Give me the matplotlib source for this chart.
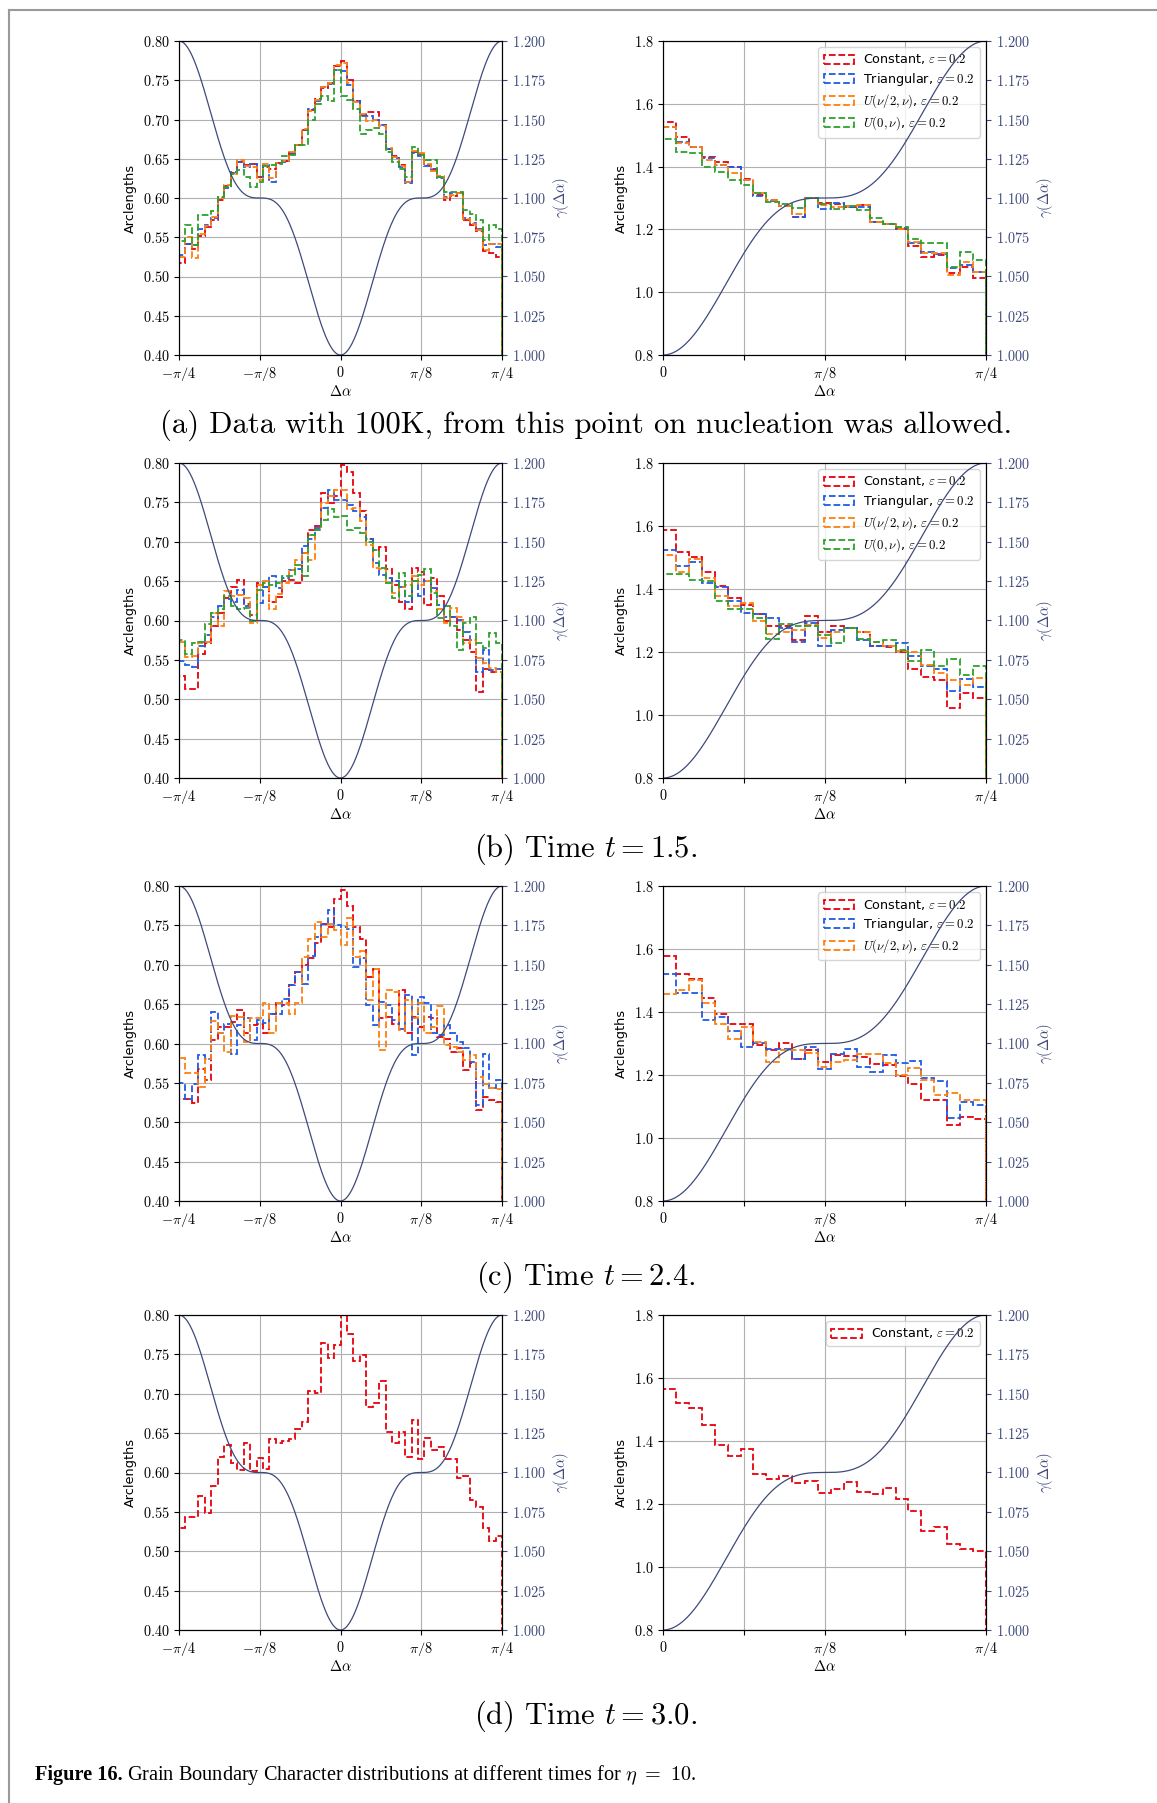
import numpy as np
import matplotlib.pyplot as plt
from matplotlib.lines import Line2D
from matplotlib.ticker import FuncFormatter

plt.rcParams['mathtext.fontset'] = 'cm'
plt.rcParams['font.size'] = 9.3
plt.rcParams['xtick.labelsize'] = 10.3
plt.rcParams['ytick.labelsize'] = 10.3

# arclength distributions on [-pi/4, pi/4] (50 bins)
a_full_const = [0.517, 0.542, 0.535, 0.552, 0.563, 0.572, 0.598, 0.615, 0.632, 0.646,
                0.642, 0.643, 0.627, 0.639, 0.637, 0.644, 0.647, 0.657, 0.667, 0.687,
                0.712, 0.726, 0.740, 0.746, 0.768, 0.775, 0.750, 0.724, 0.706, 0.710,
                0.710, 0.693, 0.663, 0.653, 0.642, 0.621, 0.659, 0.656, 0.642, 0.637,
                0.627, 0.598, 0.603, 0.606, 0.572, 0.566, 0.558, 0.532, 0.530, 0.525]
a_full_tri = [0.527, 0.542, 0.540, 0.560, 0.566, 0.575, 0.601, 0.613, 0.633, 0.646,
              0.640, 0.643, 0.627, 0.642, 0.620, 0.644, 0.646, 0.656, 0.668, 0.686,
              0.713, 0.724, 0.742, 0.745, 0.763, 0.762, 0.744, 0.723, 0.705, 0.704,
              0.699, 0.693, 0.662, 0.651, 0.640, 0.619, 0.657, 0.653, 0.641, 0.636,
              0.625, 0.601, 0.606, 0.607, 0.574, 0.568, 0.561, 0.540, 0.542, 0.538]
a_full_uhalf = [0.525, 0.550, 0.523, 0.554, 0.564, 0.576, 0.600, 0.617, 0.631, 0.648,
                0.641, 0.640, 0.623, 0.643, 0.625, 0.645, 0.647, 0.659, 0.667, 0.688,
                0.711, 0.725, 0.741, 0.747, 0.770, 0.772, 0.746, 0.722, 0.707, 0.698,
                0.699, 0.692, 0.664, 0.652, 0.641, 0.620, 0.660, 0.657, 0.643, 0.635,
                0.628, 0.600, 0.604, 0.607, 0.573, 0.567, 0.559, 0.534, 0.542, 0.542]
a_full_uzero = [0.545, 0.566, 0.540, 0.578, 0.578, 0.583, 0.601, 0.614, 0.630, 0.636,
                0.627, 0.614, 0.620, 0.641, 0.642, 0.643, 0.653, 0.655, 0.667, 0.667,
                0.700, 0.720, 0.730, 0.723, 0.763, 0.730, 0.725, 0.714, 0.682, 0.687,
                0.689, 0.682, 0.659, 0.646, 0.637, 0.627, 0.665, 0.655, 0.648, 0.648,
                0.627, 0.608, 0.608, 0.608, 0.585, 0.580, 0.572, 0.546, 0.566, 0.560]

b_full_const = [0.529, 0.513, 0.513, 0.557, 0.571, 0.593, 0.609, 0.629, 0.643, 0.652,
                0.621, 0.607, 0.648, 0.643, 0.624, 0.630, 0.650, 0.652, 0.648, 0.686,
                0.715, 0.720, 0.762, 0.749, 0.758, 0.798, 0.788, 0.762, 0.739, 0.703,
                0.690, 0.693, 0.665, 0.645, 0.624, 0.614, 0.667, 0.662, 0.620, 0.654,
                0.631, 0.599, 0.605, 0.588, 0.575, 0.560, 0.509, 0.538, 0.535, 0.534]
b_full_tri = [0.549, 0.544, 0.541, 0.567, 0.582, 0.605, 0.618, 0.627, 0.624, 0.639,
              0.618, 0.600, 0.622, 0.643, 0.656, 0.641, 0.654, 0.664, 0.665, 0.694,
              0.703, 0.717, 0.743, 0.766, 0.753, 0.753, 0.747, 0.739, 0.732, 0.703,
              0.673, 0.658, 0.654, 0.650, 0.643, 0.624, 0.650, 0.631, 0.650, 0.641,
              0.620, 0.605, 0.605, 0.601, 0.586, 0.575, 0.535, 0.563, 0.537, 0.538]
b_full_uhalf = [0.573, 0.554, 0.555, 0.572, 0.573, 0.609, 0.593, 0.637, 0.631, 0.632,
                0.628, 0.597, 0.645, 0.650, 0.614, 0.634, 0.648, 0.664, 0.677, 0.686,
                0.677, 0.715, 0.749, 0.758, 0.766, 0.766, 0.741, 0.743, 0.726, 0.696,
                0.667, 0.665, 0.648, 0.635, 0.642, 0.645, 0.656, 0.645, 0.650, 0.637,
                0.615, 0.597, 0.616, 0.605, 0.571, 0.575, 0.552, 0.546, 0.540, 0.535]
b_full_uzero = [0.575, 0.557, 0.572, 0.573, 0.595, 0.609, 0.614, 0.631, 0.618, 0.614,
                0.616, 0.600, 0.639, 0.648, 0.645, 0.647, 0.656, 0.657, 0.671, 0.656,
                0.709, 0.715, 0.728, 0.741, 0.732, 0.733, 0.715, 0.717, 0.711, 0.700,
                0.690, 0.667, 0.648, 0.629, 0.660, 0.631, 0.650, 0.658, 0.665, 0.635,
                0.603, 0.618, 0.593, 0.563, 0.597, 0.605, 0.571, 0.565, 0.584, 0.571]

c_full_const = [0.530, 0.529, 0.524, 0.568, 0.554, 0.604, 0.621, 0.621, 0.627, 0.642,
                0.613, 0.623, 0.625, 0.613, 0.638, 0.651, 0.649, 0.674, 0.691, 0.700,
                0.709, 0.727, 0.752, 0.748, 0.783, 0.795, 0.774, 0.748, 0.733, 0.685,
                0.695, 0.632, 0.634, 0.625, 0.668, 0.613, 0.634, 0.621, 0.634, 0.632,
                0.608, 0.606, 0.589, 0.594, 0.566, 0.575, 0.515, 0.532, 0.528, 0.526]
c_full_tri = [0.550, 0.530, 0.549, 0.585, 0.580, 0.640, 0.613, 0.625, 0.587, 0.623,
              0.632, 0.604, 0.630, 0.626, 0.638, 0.638, 0.657, 0.674, 0.691, 0.676,
              0.711, 0.735, 0.752, 0.769, 0.750, 0.748, 0.746, 0.697, 0.708, 0.649,
              0.623, 0.653, 0.649, 0.630, 0.619, 0.661, 0.585, 0.659, 0.651, 0.613,
              0.611, 0.623, 0.613, 0.602, 0.594, 0.577, 0.522, 0.587, 0.543, 0.554]
c_full_uhalf = [0.581, 0.562, 0.562, 0.545, 0.580, 0.629, 0.613, 0.589, 0.635, 0.634,
                0.602, 0.632, 0.632, 0.651, 0.613, 0.651, 0.651, 0.638, 0.651, 0.710,
                0.733, 0.754, 0.735, 0.752, 0.744, 0.725, 0.759, 0.710, 0.718, 0.655,
                0.695, 0.592, 0.668, 0.666, 0.617, 0.655, 0.632, 0.651, 0.613, 0.621,
                0.647, 0.598, 0.596, 0.589, 0.579, 0.585, 0.558, 0.549, 0.543, 0.542]

d_full_const = [0.530, 0.543, 0.543, 0.570, 0.548, 0.583, 0.620, 0.635, 0.612, 0.603,
                0.638, 0.602, 0.618, 0.605, 0.642, 0.637, 0.640, 0.643, 0.655, 0.664,
                0.704, 0.701, 0.765, 0.745, 0.762, 0.800, 0.776, 0.741, 0.749, 0.683,
                0.688, 0.716, 0.652, 0.637, 0.652, 0.620, 0.667, 0.617, 0.644, 0.629,
                0.632, 0.617, 0.617, 0.593, 0.595, 0.565, 0.556, 0.530, 0.513, 0.520]

# arclength distributions on [0, pi/4] (25 bins)
a_half_const = [1.543, 1.495, 1.463, 1.430, 1.416, 1.398, 1.360, 1.310, 1.294, 1.275,
                1.240, 1.300, 1.283, 1.280, 1.272, 1.278, 1.222, 1.217, 1.200, 1.147,
                1.113, 1.118, 1.060, 1.081, 1.044]
a_half_tri = [1.525, 1.479, 1.463, 1.428, 1.405, 1.398, 1.358, 1.307, 1.291, 1.275,
              1.240, 1.300, 1.265, 1.285, 1.272, 1.272, 1.222, 1.217, 1.203, 1.156,
              1.129, 1.121, 1.076, 1.087, 1.065]
a_half_uhalf = [1.527, 1.474, 1.463, 1.421, 1.405, 1.379, 1.358, 1.316, 1.294, 1.275,
                1.250, 1.300, 1.278, 1.270, 1.275, 1.278, 1.222, 1.217, 1.200, 1.161,
                1.126, 1.126, 1.055, 1.097, 1.065]
a_half_uzero = [1.487, 1.447, 1.442, 1.400, 1.382, 1.357, 1.341, 1.316, 1.288, 1.280,
                1.267, 1.300, 1.280, 1.265, 1.275, 1.262, 1.235, 1.217, 1.209, 1.168,
                1.156, 1.156, 1.081, 1.129, 1.103]

b_half_const = [1.586, 1.516, 1.502, 1.454, 1.408, 1.371, 1.350, 1.322, 1.281, 1.281,
                1.237, 1.315, 1.265, 1.284, 1.277, 1.262, 1.218, 1.216, 1.199, 1.146,
                1.121, 1.112, 1.022, 1.070, 1.054]
b_half_tri = [1.523, 1.474, 1.485, 1.419, 1.406, 1.361, 1.324, 1.322, 1.308, 1.276,
              1.231, 1.292, 1.220, 1.271, 1.277, 1.237, 1.218, 1.218, 1.229, 1.188,
              1.155, 1.146, 1.075, 1.114, 1.089]
b_half_uhalf = [1.507, 1.453, 1.495, 1.435, 1.379, 1.347, 1.354, 1.297, 1.258, 1.265,
                1.270, 1.286, 1.244, 1.265, 1.277, 1.262, 1.231, 1.218, 1.204, 1.199,
                1.160, 1.133, 1.112, 1.096, 1.117]
b_half_uzero = [1.449, 1.449, 1.428, 1.424, 1.361, 1.337, 1.337, 1.308, 1.241, 1.290,
                1.281, 1.281, 1.255, 1.229, 1.277, 1.240, 1.231, 1.237, 1.207, 1.170,
                1.207, 1.157, 1.178, 1.128, 1.155]

c_half_const = [1.577, 1.520, 1.506, 1.443, 1.395, 1.361, 1.361, 1.295, 1.279, 1.300,
                1.252, 1.279, 1.242, 1.263, 1.260, 1.258, 1.234, 1.231, 1.196, 1.171,
                1.122, 1.122, 1.041, 1.067, 1.059]
c_half_tri = [1.520, 1.459, 1.461, 1.374, 1.385, 1.340, 1.289, 1.302, 1.284, 1.284,
              1.252, 1.289, 1.218, 1.266, 1.281, 1.226, 1.210, 1.263, 1.237, 1.245,
              1.189, 1.182, 1.065, 1.115, 1.104]
c_half_uhalf = [1.456, 1.469, 1.503, 1.429, 1.361, 1.313, 1.353, 1.305, 1.242, 1.279,
                1.279, 1.270, 1.226, 1.242, 1.247, 1.266, 1.266, 1.237, 1.200, 1.221,
                1.184, 1.136, 1.144, 1.120, 1.122]

d_half_const = [1.565, 1.522, 1.506, 1.450, 1.387, 1.353, 1.374, 1.295, 1.278, 1.289,
                1.266, 1.273, 1.234, 1.247, 1.270, 1.237, 1.231, 1.252, 1.215, 1.179,
                1.114, 1.128, 1.073, 1.058, 1.052]

labels = [r'Constant, $\varepsilon = 0.2$', r'Triangular, $\varepsilon = 0.2$',
          r'$U(\nu/2,\nu)$, $\varepsilon = 0.2$', r'$U(0,\nu)$, $\varepsilon = 0.2$']
colors = ['#e8000b', '#1f5ae6', '#ff7f0e', '#2ca02c']
curve_color = '#3f4a7c'

captions = ['(a) Data with 100K, from this point on nucleation was allowed.',
            r'(b) Time $t = 1.5$.', r'(c) Time $t = 2.4$.', r'(d) Time $t = 3.0$.']

rows = [
    ([a_full_const, a_full_tri, a_full_uhalf, a_full_uzero],
     [a_half_const, a_half_tri, a_half_uhalf, a_half_uzero]),
    ([b_full_const, b_full_tri, b_full_uhalf, b_full_uzero],
     [b_half_const, b_half_tri, b_half_uhalf, b_half_uzero]),
    ([c_full_const, c_full_tri, c_full_uhalf],
     [c_half_const, c_half_tri, c_half_uhalf]),
    ([d_full_const], [d_half_const]),
]


def gamma(x):
    return 1.1 - 0.1 * np.cos(4 * x) ** 3


def panel(ax, series, lo, ylim, yfmt, xticks, xlabels, legend=False):
    edges = np.linspace(lo, np.pi / 4, len(series[0]) + 1)
    mids = 0.5 * (edges[1:] + edges[:-1])
    for vals, c, lab in zip(series, colors, labels):
        ax.hist(mids, bins=edges, weights=vals, histtype='step', linestyle='--',
                linewidth=1.3, color=c, label=lab)
    ax.set_xlim(lo, np.pi / 4)
    ax.set_ylim(*ylim)
    ax.set_axisbelow(True)
    ax.grid(True, color='#b0b0b0', linewidth=0.8)
    ax.set_xticks(xticks)
    ax.set_xticklabels(xlabels)
    ax.yaxis.set_major_formatter(FuncFormatter(lambda v, p: '$' + yfmt % v + '$'))
    ax.set_ylabel('Arclengths')
    ax.set_xlabel(r'$\Delta\alpha$', labelpad=1, fontsize=10.5)
    if legend:
        ax.legend(loc='upper right', fontsize=9.2, handlelength=2.4,
                  labelspacing=0.35, handletextpad=0.7)

    ax2 = ax.twinx()
    xx = np.linspace(lo, np.pi / 4, 500)
    ax2.plot(xx, gamma(xx), color=curve_color, linewidth=0.9)
    ax2.set_ylim(1.0, 1.2)
    ax2.set_yticks(np.linspace(1.0, 1.2, 9))
    ax2.yaxis.set_major_formatter(FuncFormatter(lambda v, p: '$%.3f$' % v))
    ax2.tick_params(axis='y', colors=curve_color)
    ax2.set_ylabel(r'$\gamma(\Delta\alpha)$', color=curve_color, fontsize=10.5)


W, H = 1157, 1803
fig = plt.figure(figsize=(W / 100, H / 100), dpi=100)

row_px = [(41, 355), (463, 778), (886, 1201), (1315, 1630)]
caption_y = [425, 849, 1277, 1716]

full_ticks = [-np.pi / 4, -np.pi / 8, 0, np.pi / 8, np.pi / 4]
full_labels = [r'$-\pi/4$', r'$-\pi/8$', r'$0$', r'$\pi/8$', r'$\pi/4$']
half_ticks = [0, np.pi / 16, np.pi / 8, 3 * np.pi / 16, np.pi / 4]
half_labels = [r'$0$', '', r'$\pi/8$', '', r'$\pi/4$']

for (top, bot), (full, half), cap, cy in zip(row_px, rows, captions, caption_y):
    h = (bot - top) / H
    y0 = 1 - bot / H
    axl = fig.add_axes([179 / W, y0, 323 / W, h])
    panel(axl, full, -np.pi / 4, (0.4, 0.8), '%.2f', full_ticks, full_labels)
    axl.set_yticks(np.arange(0.40, 0.801, 0.05))
    axr = fig.add_axes([663 / W, y0, 323 / W, h])
    panel(axr, half, 0.0, (0.8, 1.8), '%.1f', half_ticks, half_labels, legend=True)
    axr.set_yticks(np.arange(0.8, 1.801, 0.2))
    fig.text(586 / W, 1 - cy / H, cap, ha='center', va='center', fontsize=22,
             family='cmr10')

# page frame
fig.add_artist(Line2D([9 / W, 1], [1 - 9.5 / H, 1 - 9.5 / H], color='#9a9a9a',
                      linewidth=1.5, transform=fig.transFigure))
fig.add_artist(Line2D([9 / W, 9 / W], [0, 1 - 9.5 / H], color='#9a9a9a',
                      linewidth=1.5, transform=fig.transFigure))

t1 = fig.text(35 / W, 1 - 1775 / H, 'Figure 16.', fontsize=14.6, fontweight='bold',
              family='Liberation Serif', va='center')
fig.axes[0].annotate(r'Grain Boundary Character distributions at different times for $\eta\ =\ 10$.',
                     xy=(1, 0.5), xycoords=t1, xytext=(3, 0), textcoords='offset points',
                     va='center', fontsize=14.6, family='Liberation Serif',
                     annotation_clip=False)

fig.savefig('out.png', dpi=100)
